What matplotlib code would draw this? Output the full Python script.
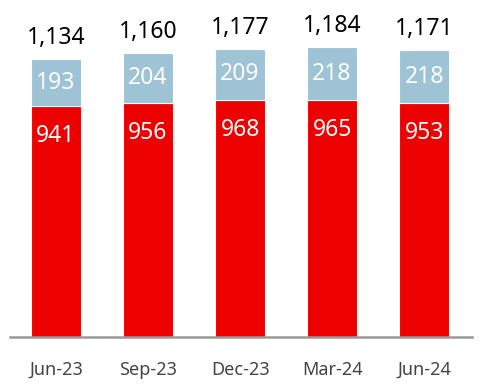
import matplotlib
matplotlib.use("Agg")
from matplotlib import pyplot as plt

quarters = ["Jun-23", "Sep-23", "Dec-23", "Mar-24", "Jun-24"]
lower = [941, 956, 968, 965, 953]
upper = [193, 204, 209, 218, 218]
totals = [1134, 1160, 1177, 1184, 1171]

red = "#EC0000"
blue = "#9DC3D4"

plt.rcParams["font.family"] = ["Noto Sans", "DejaVu Sans"]

fig = plt.figure(figsize=(4.82, 3.84), dpi=100)
ax = fig.add_axes([10 / 482, 47 / 384, 462 / 482, 337 / 384])

x = list(range(len(quarters)))
w = 0.543
ax.bar(x, lower, width=w, color=red, edgecolor="white", linewidth=0.8)
ax.bar(x, upper, width=w, bottom=lower, color=blue, edgecolor="white", linewidth=0.8)

for i in x:
    ax.text(i, lower[i] - 122, str(lower[i]), ha="center", va="center",
            color="white", fontsize=16.5)
    ax.text(i, lower[i] + upper[i] / 2, str(upper[i]), ha="center", va="center",
            color="white", fontsize=16.5)
    ax.text(i, totals[i] + 35, f"{totals[i]:,}", ha="center", va="bottom",
            color="black", fontsize=16.5)

ax.set_xlim(-0.5, 4.52)
ax.set_ylim(0, 1375)
ax.set_xticks(x)
ax.set_xticklabels(quarters, fontsize=13, color="#444444")
ax.tick_params(axis="x", length=0, pad=17)
ax.set_yticks([])
for s in ["top", "right", "left"]:
    ax.spines[s].set_visible(False)
ax.spines["bottom"].set_color("#999999")
ax.spines["bottom"].set_linewidth(1.8)

fig.savefig("out.png", dpi=100)
